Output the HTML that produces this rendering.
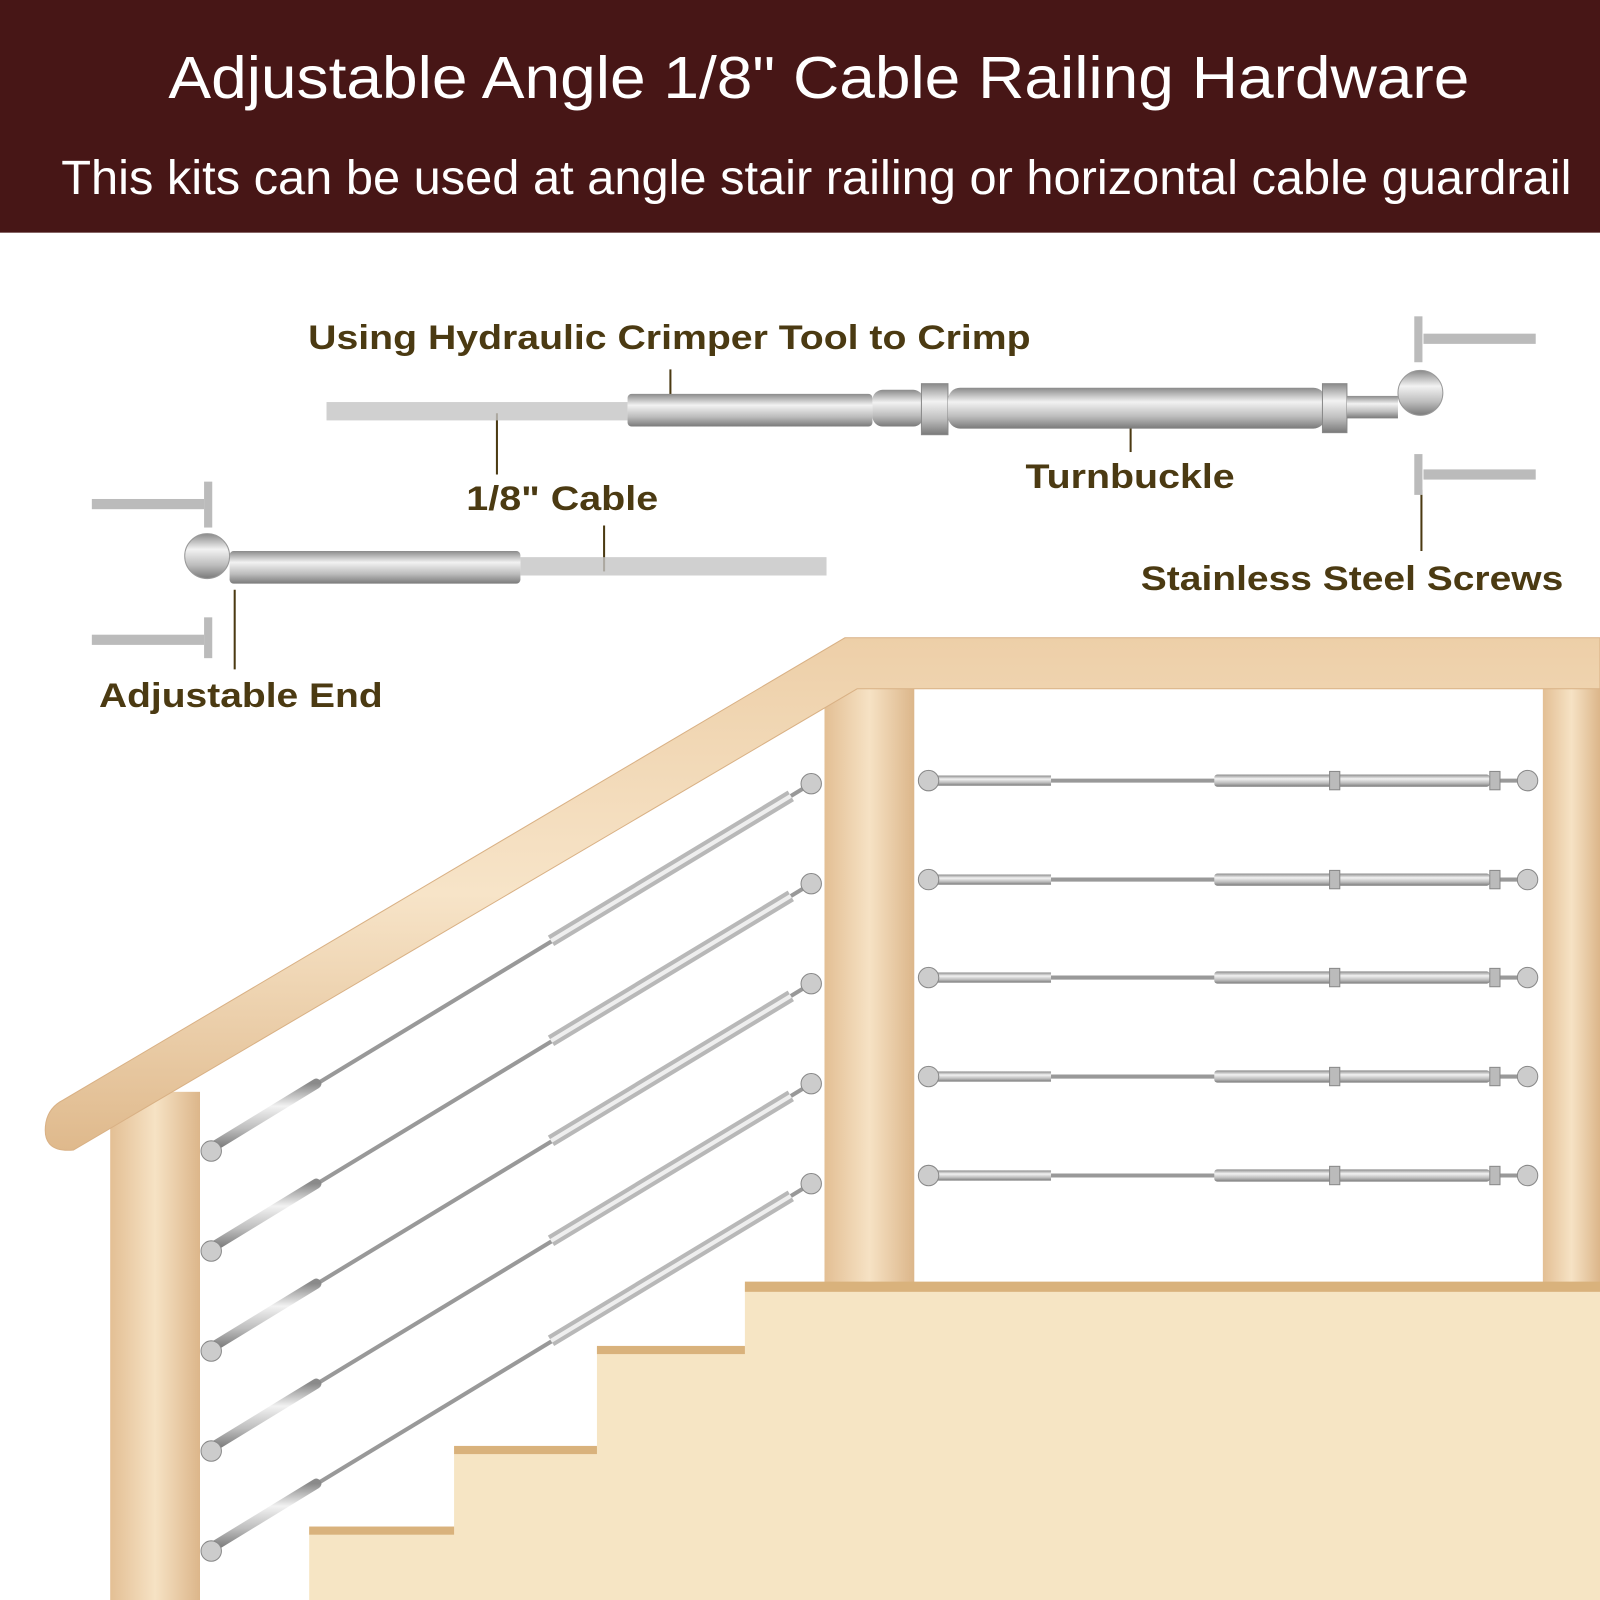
<!DOCTYPE html>
<html><head><meta charset="utf-8"><style>
html,body{margin:0;padding:0;background:#fff}
svg{display:block}
</style></head><body>
<svg width="1600" height="1600" viewBox="0 0 1568 1568" xmlns="http://www.w3.org/2000/svg">
<defs>
<linearGradient id="steel" x1="0" y1="0" x2="0" y2="1">
<stop offset="0" stop-color="#8a8a8a"/><stop offset="0.35" stop-color="#f2f2f2"/><stop offset="0.7" stop-color="#bdbdbd"/><stop offset="1" stop-color="#7a7a7a"/></linearGradient>
<linearGradient id="post" x1="0" y1="0" x2="1" y2="0">
<stop offset="0" stop-color="#e3bf94"/><stop offset="0.5" stop-color="#f6e2c4"/><stop offset="1" stop-color="#dcb68a"/></linearGradient>
<linearGradient id="rail" x1="0" y1="0" x2="0" y2="1">
<stop offset="0" stop-color="#edcfa8"/><stop offset="0.5" stop-color="#f7e4c8"/><stop offset="1" stop-color="#dfb98c"/></linearGradient>
</defs>
<rect x="0" y="0" width="1568" height="228" fill="#471616"/>
<text x="165" y="96" textLength="1275" lengthAdjust="spacingAndGlyphs" fill="#fff" font-family="Liberation Sans, sans-serif" font-size="58">Adjustable Angle 1/8" Cable Railing Hardware</text>
<text x="60" y="190" textLength="1480" lengthAdjust="spacingAndGlyphs" fill="#fff" font-family="Liberation Sans, sans-serif" font-size="47">This kits can be used at angle stair railing or horizontal cable guardrail</text>

<g font-family="Liberation Sans, sans-serif" font-weight="bold" font-size="34" fill="#4b3a12" lengthAdjust="spacingAndGlyphs">
<text x="302" y="342" textLength="708" lengthAdjust="spacingAndGlyphs">Using Hydraulic Crimper Tool to Crimp</text>
<text x="457" y="500" textLength="188" lengthAdjust="spacingAndGlyphs">1/8" Cable</text>
<text x="1005" y="478" textLength="205" lengthAdjust="spacingAndGlyphs">Turnbuckle</text>
<text x="1118" y="578" textLength="414" lengthAdjust="spacingAndGlyphs">Stainless Steel Screws</text>
<text x="97" y="693" textLength="278" lengthAdjust="spacingAndGlyphs">Adjustable End</text>
</g>
<g stroke="#4b3a12" stroke-width="2">
<line x1="657" y1="362" x2="657" y2="397"/><line x1="487" y1="405" x2="487" y2="465"/>
<line x1="1108" y1="415" x2="1108" y2="443"/><line x1="1393" y1="480" x2="1393" y2="540"/>
<line x1="592" y1="515" x2="592" y2="560"/><line x1="230" y1="578" x2="230" y2="656"/>
</g>

<rect x="320" y="394" width="295" height="18" fill="#c4c4c4" opacity="0.8"/>
<rect x="615" y="386" width="240" height="32" rx="4" fill="url(#steel)"/>
<rect x="855" y="382" width="50" height="36" rx="10" fill="url(#steel)"/>
<rect x="903" y="376" width="26" height="50" fill="url(#steel)" stroke="#888"/>
<rect x="929" y="380" width="370" height="40" rx="12" fill="url(#steel)"/>
<rect x="1296" y="376" width="24" height="48" fill="url(#steel)" stroke="#888"/>
<rect x="1320" y="388" width="50" height="22" fill="url(#steel)"/>
<circle cx="1392" cy="385" r="22" fill="url(#steel)" stroke="#999"/>
<g fill="#bbb"><rect x="1395" y="327" width="110" height="10"/><rect x="1395" y="460" width="110" height="10"/>
<rect x="1386" y="310" width="8" height="45"/><rect x="1386" y="445" width="8" height="40"/></g>

<rect x="510" y="546" width="300" height="18" fill="#c4c4c4" opacity="0.8"/>
<rect x="225" y="540" width="285" height="32" rx="4" fill="url(#steel)"/>
<circle cx="203" cy="545" r="22" fill="url(#steel)" stroke="#999"/>
<g fill="#bbb"><rect x="90" y="489" width="110" height="10"/><rect x="90" y="622" width="110" height="10"/>
<rect x="200" y="472" width="8" height="45"/><rect x="200" y="605" width="8" height="40"/></g>

<rect x="108" y="1070" width="88" height="498" fill="url(#post)"/>
<rect x="808" y="670" width="88" height="590" fill="url(#post)"/>
<rect x="1512" y="670" width="56" height="590" fill="url(#post)"/>

<path d="M828,625 L1568,625 L1568,675 L840,675 L72,1127 Q40,1130 45,1100 Q48,1085 62,1078 Z" fill="url(#rail)" stroke="#d9b185" stroke-width="1"/>

<g>
<g id="sc">
<line x1="207" y1="1125" x2="795" y2="768" stroke="#999" stroke-width="4"/>
<line x1="207" y1="1125" x2="310" y2="1062" stroke="url(#steel)" stroke-width="10" stroke-linecap="round"/>
<line x1="540" y1="922" x2="775" y2="780" stroke="#b8b8b8" stroke-width="12"/>
<line x1="540" y1="922" x2="775" y2="780" stroke="#eee" stroke-width="4"/>
<circle cx="207" cy="1128" r="10" fill="#ccc" stroke="#888"/>
<circle cx="795" cy="768" r="10" fill="#ccc" stroke="#888"/>
</g>
<use href="#sc" y="98"/><use href="#sc" y="196"/><use href="#sc" y="294"/><use href="#sc" y="392"/>
</g>

<g id="hc">
<line x1="910" y1="765" x2="1497" y2="765" stroke="#999" stroke-width="4"/>
<rect x="915" y="760" width="115" height="10" fill="url(#steel)"/>
<rect x="1190" y="759" width="270" height="12" rx="3" fill="url(#steel)"/>
<rect x="1303" y="756" width="10" height="18" fill="#bbb" stroke="#888"/>
<rect x="1460" y="756" width="10" height="18" fill="#bbb" stroke="#888"/>
<circle cx="910" cy="765" r="10" fill="#ccc" stroke="#888"/>
<circle cx="1497" cy="765" r="10" fill="#ccc" stroke="#888"/>
</g>
<use href="#hc" y="97"/><use href="#hc" y="193"/><use href="#hc" y="290"/><use href="#hc" y="387"/>

<path d="M730,1258 L1568,1258 L1568,1568 L303,1568 L303,1497 L445,1497 L445,1418 L585,1418 L585,1320 L730,1320 Z" fill="#f6e5c4"/>
<g fill="#d9b27c">
<rect x="730" y="1256" width="838" height="10"/>
<rect x="585" y="1319" width="145" height="8"/>
<rect x="445" y="1417" width="140" height="8"/>
<rect x="303" y="1496" width="142" height="8"/>
</g>
</svg>
</body></html>
